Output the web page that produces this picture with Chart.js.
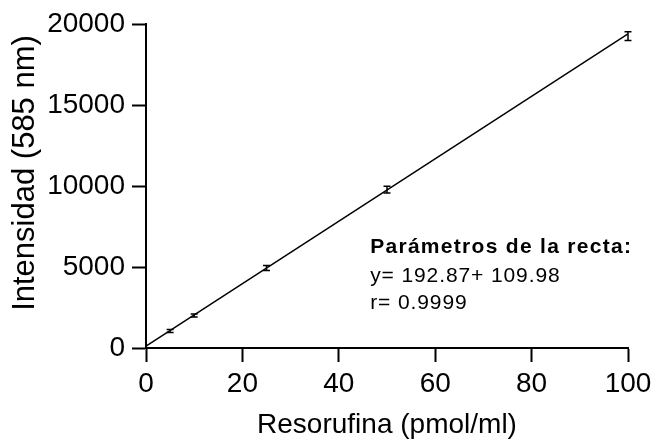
<!DOCTYPE html>
<html>
<head>
<meta charset="utf-8">
<script src="https://cdn.jsdelivr.net/npm/chart.js@4.4.0/dist/chart.umd.min.js"></script>
<style>
  html, body { margin: 0; padding: 0; background: #fff; }
</style>
</head>
<body>
<canvas id="calib" width="661" height="447"></canvas>
<script>
// Resorufina standards (pmol/ml) and mean intensity at 585 nm
const concentrations = [5, 10, 25, 50, 100];
const intensities = [1050, 2010, 4940, 9780, 19250];
const intensityErrors = [90, 90, 150, 210, 270];

// linear fit of the standards
const slope = 192.87;
const intercept = 109.98;
const rValue = 0.9999;
const fitRange = [0, 100];

const xTicks = [0, 20, 40, 60, 80, 100];
const yTicks = [0, 5000, 10000, 15000, 20000];

const FONT = "'Liberation Sans', Arial, sans-serif";
Chart.defaults.font.family = FONT;
Chart.defaults.color = '#000';

const fitPoints = fitRange.map(x => ({ x: x, y: slope * x + intercept }));
const standardPoints = concentrations.map((c, i) => ({ x: c, y: intensities[i] }));

// vertical error bars with small caps
const errorBars = {
    id: 'errorBars',
    afterDatasetsDraw(chart) {
        const { ctx, scales: { x, y } } = chart;
        ctx.save();
        ctx.strokeStyle = '#000';
        ctx.lineWidth = 1.5;
        concentrations.forEach((c, i) => {
            const px = x.getPixelForValue(c);
            const top = y.getPixelForValue(intensities[i] + intensityErrors[i]);
            const bot = y.getPixelForValue(intensities[i] - intensityErrors[i]);
            ctx.beginPath();
            ctx.moveTo(px, top); ctx.lineTo(px, bot);
            ctx.moveTo(px - 3.5, top); ctx.lineTo(px + 3.5, top);
            ctx.moveTo(px - 3.5, bot); ctx.lineTo(px + 3.5, bot);
            ctx.stroke();
        });
        ctx.restore();
    }
};

// y axis title and the fit parameters box
const extraText = {
    id: 'extraText',
    afterDraw(chart) {
        const { ctx, scales: { x, y } } = chart;
        ctx.save();
        ctx.fillStyle = '#000';

        ctx.save();
        ctx.translate(25, 173);
        ctx.rotate(-Math.PI / 2);
        ctx.font = '31px ' + FONT;
        ctx.textAlign = 'center';
        ctx.textBaseline = 'middle';
        ctx.fillText('Intensidad (585 nm)', 0, 0);
        ctx.restore();

        const left = x.getPixelForValue(46.5);
        const base = y.getPixelForValue(5880);
        ctx.textAlign = 'left';
        ctx.textBaseline = 'alphabetic';
        ctx.font = 'bold 21px ' + FONT;
        ctx.letterSpacing = '1.3px';
        ctx.fillText('Parámetros de la recta:', left, base);
        ctx.font = '21px ' + FONT;
        ctx.letterSpacing = '0.9px';
        ctx.fillText('y= ' + slope + '+ ' + intercept, left, base + 29);
        ctx.fillText('r= ' + rValue, left, base + 56);
        ctx.restore();
    }
};

new Chart(document.getElementById('calib'), {
    type: 'scatter',
    data: {
        datasets: [
            {
                data: standardPoints,
                pointRadius: 0,
                pointHoverRadius: 0
            },
            {
                data: fitPoints,
                showLine: true,
                borderColor: '#000',
                borderWidth: 1.5,
                pointRadius: 0,
                pointHoverRadius: 0
            }
        ]
    },
    options: {
        responsive: false,
        devicePixelRatio: 1,
        animation: false,
        layout: { padding: { top: 24, right: 33, left: 0, bottom: 0 } },
        plugins: {
            legend: { display: false },
            tooltip: { enabled: false }
        },
        scales: {
            x: {
                type: 'linear',
                min: 0,
                max: 100,
                afterBuildTicks: s => { s.ticks = xTicks.map(v => ({ value: v })); },
                afterFit: s => { s.height = 99; },
                border: { display: true, color: '#000', width: 2 },
                grid: { drawOnChartArea: false, color: '#000', tickLength: 14, tickWidth: 2 },
                ticks: { font: { size: 28 }, padding: 5, maxRotation: 0, callback: v => String(v) },
                title: {
                    display: true,
                    text: 'Resorufina (pmol/ml)',
                    font: { size: 28 },
                    padding: { top: 4, bottom: 5 }
                }
            },
            y: {
                type: 'linear',
                min: 0,
                max: 20000,
                afterBuildTicks: s => { s.ticks = yTicks.map(v => ({ value: v })); },
                afterFit: s => { s.width = 146; },
                border: { display: true, color: '#000', width: 2 },
                grid: { drawOnChartArea: false, color: '#000', tickLength: 14, tickWidth: 2 },
                ticks: { font: { size: 28 }, padding: 7, callback: v => String(v) }
            }
        }
    },
    plugins: [errorBars, extraText]
});
</script>
</body>
</html>
